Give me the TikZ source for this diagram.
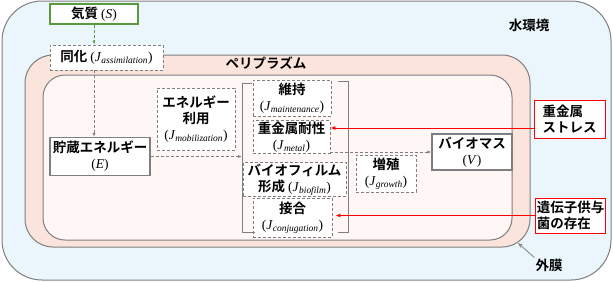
\documentclass[tikz,border=0pt]{standalone}
\usepackage{fontspec}
\setmainfont{Liberation Serif}
\newfontfamily\jp{Noto Sans CJK JP Bold}
\usetikzlibrary{arrows.meta, positioning, calc}

\definecolor{waterblue}{HTML}{EAF6FC}
\definecolor{periplasm}{HTML}{FAE4DC}
\definecolor{cellfill}{HTML}{FEF7F5}
\definecolor{linegray}{HTML}{7F7F7F}
\definecolor{subgreen}{HTML}{5A9A3C}

\newcommand{\flux}[1]{{\rmfamily\mdseries(\textit{J}\textsubscript{\textit{#1}})}}
\newcommand{\pool}[1]{{\rmfamily\mdseries(\textit{#1})}}

\begin{document}
\begin{tikzpicture}[x=1pt, y=-1pt,
    every node/.style={font=\fontsize{13.5}{16}\selectfont\jp, inner sep=1pt},
    proc/.style={rectangle, draw=linegray, line width=0.9pt, dash pattern=on 3pt off 2pt, fill=white, align=center},
    stock/.style={rectangle, draw=linegray, line width=1.2pt, fill=white, align=center},
    factor/.style={rectangle, draw=red, line width=1pt, fill=white, align=left},
    flow/.style={-{Latex[length=4pt, width=3pt]}, linegray, line width=0.9pt, dash pattern=on 3pt off 2pt},
    signal/.style={-{Latex[length=5pt, width=4pt]}, red, line width=0.9pt},
    membrane/.style={draw=linegray, line width=1pt},
    bracket/.style={draw=linegray, line width=1pt}
]
    \useasboundingbox (0,0) rectangle (613,282);

    % compartments
    \draw[membrane, fill=waterblue, rounded corners=40pt] (2,1) rectangle (611,280);
    \draw[membrane, fill=periplasm, rounded corners=28pt] (25,55) rectangle (530,247);
    \draw[membrane, fill=cellfill, rounded corners=22pt] (43,75) rectangle (512,240);

    \node (water) at (529,25) {水環境};
    \node (peri) at (266,63) {ペリプラズム};
    \node (outer) at (549,265) {外膜};
    \coordinate (outerpt) at (518,243);

    \node[stock, draw=subgreen, minimum width=88pt, minimum height=20pt] (substrate) at (94,14) {気質 \pool{S}};
    \node[proc, minimum width=113pt, minimum height=25pt] (assim) at (106.5,57.5) {同化 \flux{assimilation}};
    \node[stock, minimum width=100pt, minimum height=38pt] (store) at (100,156.5) {貯蔵エネルギー\\\pool{E}};
    \node[proc, minimum width=78pt, minimum height=62pt] (mobil) at (196,119) {エネルギー\\利用\\\flux{mobilization}};

    \node[proc, minimum width=78pt, minimum height=36pt] (maint) at (292,98) {維持\\\flux{maintenance}};
    \node[proc, minimum width=77pt, minimum height=30pt] (metal) at (291.5,137) {重金属耐性\\\flux{metal}};
    \node[proc, minimum width=103pt, minimum height=33pt] (biofilm) at (294.5,179.5) {バイオフィルム\\形成 \flux{biofilm}};
    \node[proc, minimum width=79pt, minimum height=39pt] (conj) at (292.5,217.5) {接合\\\flux{conjugation}};

    \node[proc, minimum width=60pt, minimum height=37pt] (growth) at (386,173.5) {増殖\\\flux{growth}};
    \node[stock, minimum width=80pt, minimum height=36pt] (biomass) at (472,152) {バイオマス\\\pool{V}};

    \node[factor, minimum width=71pt, minimum height=38pt] (stress) at (569.5,119) {重金属\\ストレス};
    \node[factor, minimum width=69pt, minimum height=35pt] (donor) at (570.5,215.5) {遺伝子供与\\菌の存在};

    % allocation brackets
    \draw[bracket] (252,83) -- (242,83) -- (242,232) -- (255,232);
    \draw[bracket] (338,81) -- (348,81) -- (348,232) -- (338,232);
    \coordinate (brL) at (242,155);

    \draw[flow, subgreen] (substrate.south) -- (substrate.south |- assim.north);
    \draw[flow] (assim.south -| substrate.south) -- (substrate.south |- store.north);
    \draw[flow] (store.east) -- (store.east -| brL);
    \draw[flow] (metal.east |- biomass.west) -- (biomass.west);

    \coordinate (stressout) at ([yshift=-9pt]stress.west);
    \draw[signal] (stressout) -- (stressout -| metal.east);
    \draw[signal, shorten >=3pt] (donor.west) -- (donor.west -| conj.east);

    \draw[-{Stealth[length=5pt]}, linegray, line width=0.8pt] (outer.north west) -- (outerpt);
\end{tikzpicture}
\end{document}
